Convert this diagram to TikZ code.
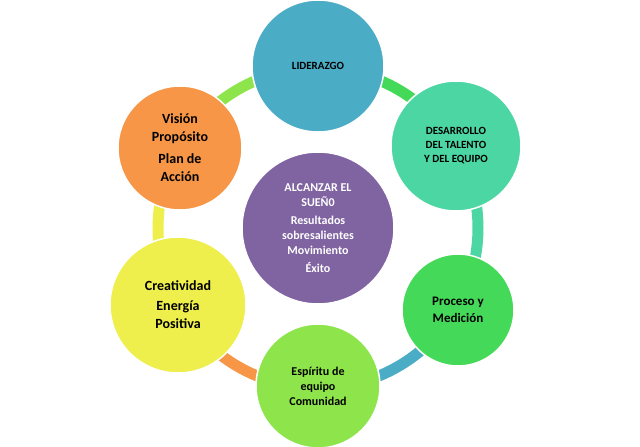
\documentclass[tikz,border=0pt]{standalone}
\usepackage{fontspec}
\setmainfont{Carlito}
\definecolor{cLid}{HTML}{4BACC6}
\definecolor{cDes}{HTML}{4CD6A4}
\definecolor{cPro}{HTML}{45D95A}
\definecolor{cEsp}{HTML}{8EE54B}
\definecolor{cCre}{HTML}{EEEE4D}
\definecolor{cVis}{HTML}{F79646}
\definecolor{cCen}{HTML}{8064A2}
\begin{document}
\begin{tikzpicture}[x=1pt,y=-1pt,
  bub/.style={circle,draw=white,line width=1.5pt,align=center,font=\bfseries\fontsize{12}{15}\selectfont,inner sep=0pt},
  seg/.style={line width=11pt}]
\useasboundingbox (0,0) rectangle (640,447);
\coordinate (c) at (318,228);
\draw[seg,cLid] (c) ++(90:160) arc[start angle=90,end angle=30,radius=160];
\draw[seg,cDes] (c) ++(30:160) arc[start angle=30,end angle=-30,radius=160];
\draw[seg,cPro] (c) ++(-30:160) arc[start angle=-30,end angle=-90,radius=160];
\draw[seg,cEsp] (c) ++(-90:160) arc[start angle=-90,end angle=-150,radius=160];
\draw[seg,cCre] (c) ++(210:160) arc[start angle=210,end angle=150,radius=160];
\draw[seg,cVis] (c) ++(150:160) arc[start angle=150,end angle=90,radius=160];
\node[bub,fill=cCen,text=white,minimum size=152pt] (cen) at (c) {ALCANZAR EL\\SUEÑ0\\[3pt]Resultados\\sobresalientes\\Movimiento\\[3pt]Éxito};
\node[bub,fill=cLid,minimum size=132pt,font=\bfseries\fontsize{11}{14}\selectfont] (lid) at (318,66) {LIDERAZGO};
\node[bub,fill=cDes,minimum size=130pt,font=\bfseries\fontsize{11}{14}\selectfont] (des) at (456,146) {DESARROLLO\\DEL TALENTO\\Y DEL EQUIPO};
\node[bub,fill=cPro,minimum size=112pt,font=\bfseries\fontsize{13}{17}\selectfont] (pro) at (458,310) {Proceso y\\Medición};
\node[bub,fill=cEsp,minimum size=124pt] (esp) at (318,386) {Espíritu de\\equipo\\Comunidad};
\node[bub,fill=cCre,minimum size=136pt,font=\bfseries\fontsize{14}{18}\selectfont] (cre) at (178,305) {Creatividad\\[2pt]Energía\\Positiva};
\node[bub,fill=cVis,minimum size=124pt,font=\bfseries\fontsize{14}{18}\selectfont] (vis) at (180,148) {Visión\\Propósito\\[4pt]Plan de\\Acción};
\end{tikzpicture}
\end{document}
